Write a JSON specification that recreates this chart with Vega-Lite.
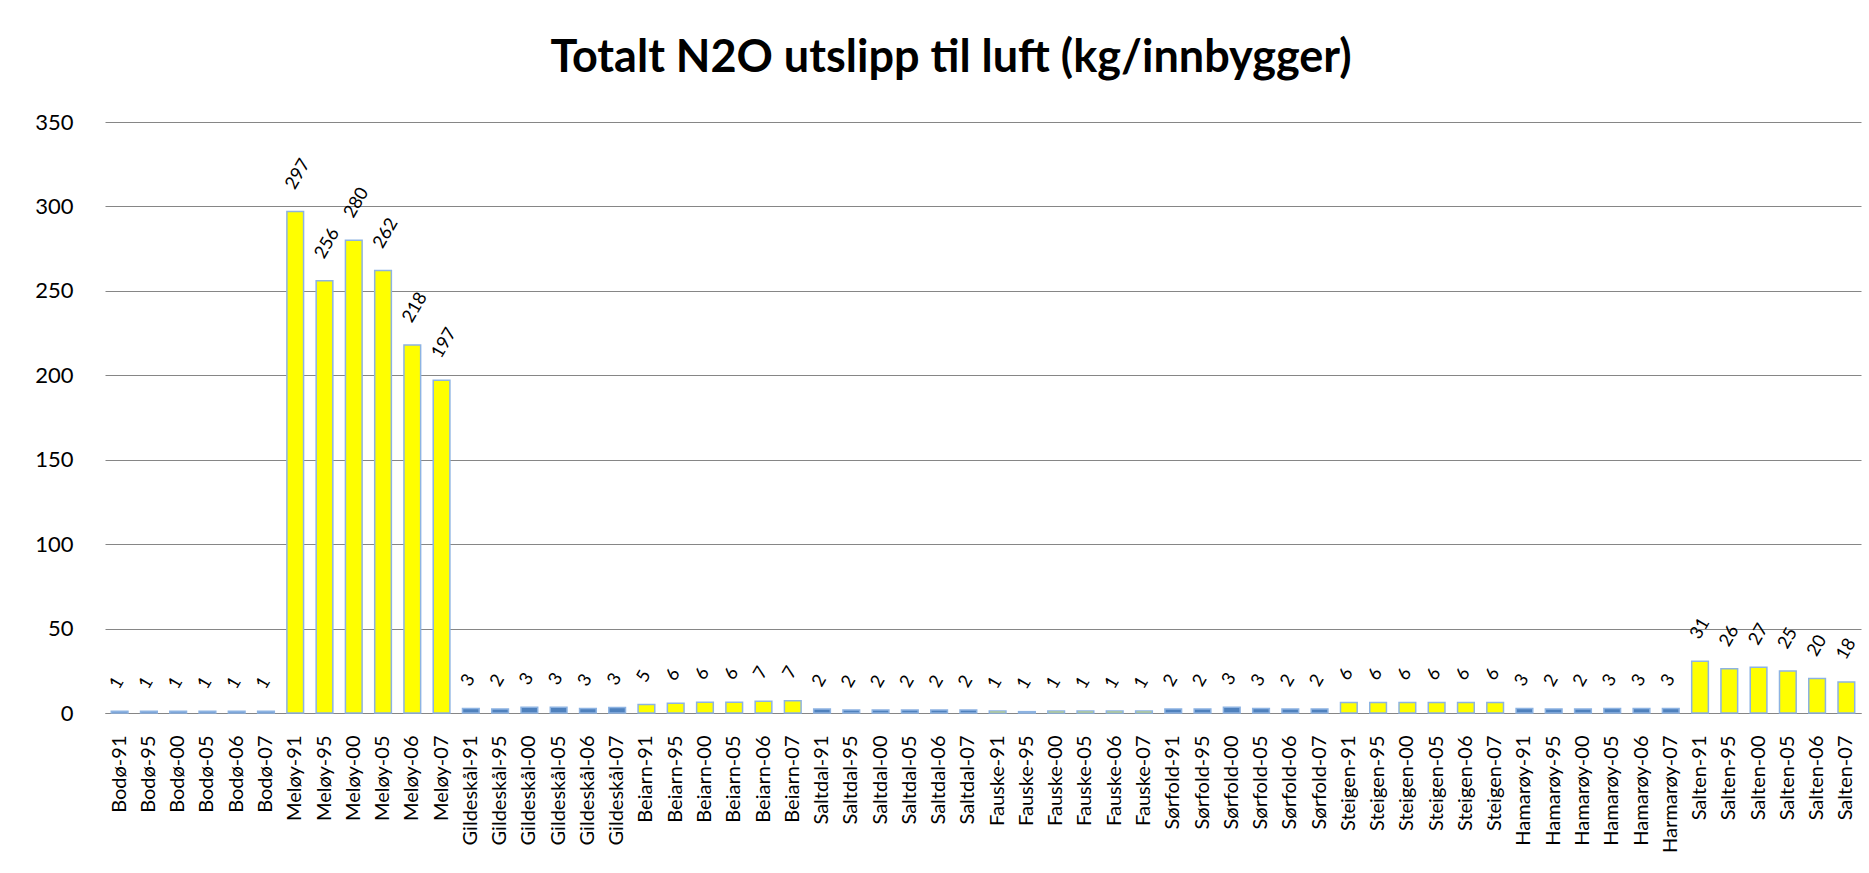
{
  "$schema": "https://vega.github.io/schema/vega-lite/v6.json",
  "autosize": {"type": "none"},
  "padding": {"left": 105, "top": 122, "right": 8, "bottom": 160},
  "width": 1756,
  "height": 591,
  "background": "white",
  "title": {
    "text": "Totalt N2O utslipp til luft (kg/innbygger)",
    "font": "Lato",
    "fontWeight": "bold",
    "fontSize": 45,
    "color": "#000000",
    "anchor": "middle",
    "baseline": "alphabetic",
    "offset": -6,
    "dx": -32
  },
  "data": {
    "values": [
      {"label": "Bodø-91", "kommune": "Bodø", "value": 1.0},
      {"label": "Bodø-95", "kommune": "Bodø", "value": 1.0},
      {"label": "Bodø-00", "kommune": "Bodø", "value": 1.0},
      {"label": "Bodø-05", "kommune": "Bodø", "value": 1.0},
      {"label": "Bodø-06", "kommune": "Bodø", "value": 1.0},
      {"label": "Bodø-07", "kommune": "Bodø", "value": 1.0},
      {"label": "Meløy-91", "kommune": "Meløy", "value": 297},
      {"label": "Meløy-95", "kommune": "Meløy", "value": 256},
      {"label": "Meløy-00", "kommune": "Meløy", "value": 280},
      {"label": "Meløy-05", "kommune": "Meløy", "value": 262},
      {"label": "Meløy-06", "kommune": "Meløy", "value": 218},
      {"label": "Meløy-07", "kommune": "Meløy", "value": 197},
      {"label": "Gildeskål-91", "kommune": "Gildeskål", "value": 2.6},
      {"label": "Gildeskål-95", "kommune": "Gildeskål", "value": 2.4},
      {"label": "Gildeskål-00", "kommune": "Gildeskål", "value": 3.4},
      {"label": "Gildeskål-05", "kommune": "Gildeskål", "value": 3.4},
      {"label": "Gildeskål-06", "kommune": "Gildeskål", "value": 2.6},
      {"label": "Gildeskål-07", "kommune": "Gildeskål", "value": 3.2},
      {"label": "Beiarn-91", "kommune": "Beiarn", "value": 5.0},
      {"label": "Beiarn-95", "kommune": "Beiarn", "value": 5.8},
      {"label": "Beiarn-00", "kommune": "Beiarn", "value": 6.4},
      {"label": "Beiarn-05", "kommune": "Beiarn", "value": 6.4},
      {"label": "Beiarn-06", "kommune": "Beiarn", "value": 7.0},
      {"label": "Beiarn-07", "kommune": "Beiarn", "value": 7.2},
      {"label": "Saltdal-91", "kommune": "Saltdal", "value": 2.3},
      {"label": "Saltdal-95", "kommune": "Saltdal", "value": 1.8},
      {"label": "Saltdal-00", "kommune": "Saltdal", "value": 1.8},
      {"label": "Saltdal-05", "kommune": "Saltdal", "value": 1.8},
      {"label": "Saltdal-06", "kommune": "Saltdal", "value": 1.8},
      {"label": "Saltdal-07", "kommune": "Saltdal", "value": 1.8},
      {"label": "Fauske-91", "kommune": "Fauske", "value": 1.2},
      {"label": "Fauske-95", "kommune": "Fauske", "value": 0.8},
      {"label": "Fauske-00", "kommune": "Fauske", "value": 1.2},
      {"label": "Fauske-05", "kommune": "Fauske", "value": 1.2},
      {"label": "Fauske-06", "kommune": "Fauske", "value": 1.2},
      {"label": "Fauske-07", "kommune": "Fauske", "value": 1.2},
      {"label": "Sørfold-91", "kommune": "Sørfold", "value": 2.4},
      {"label": "Sørfold-95", "kommune": "Sørfold", "value": 2.4},
      {"label": "Sørfold-00", "kommune": "Sørfold", "value": 3.4},
      {"label": "Sørfold-05", "kommune": "Sørfold", "value": 2.6},
      {"label": "Sørfold-06", "kommune": "Sørfold", "value": 2.4},
      {"label": "Sørfold-07", "kommune": "Sørfold", "value": 2.4},
      {"label": "Steigen-91", "kommune": "Steigen", "value": 6.2},
      {"label": "Steigen-95", "kommune": "Steigen", "value": 6.2},
      {"label": "Steigen-00", "kommune": "Steigen", "value": 6.2},
      {"label": "Steigen-05", "kommune": "Steigen", "value": 6.2},
      {"label": "Steigen-06", "kommune": "Steigen", "value": 6.2},
      {"label": "Steigen-07", "kommune": "Steigen", "value": 6.2},
      {"label": "Hamarøy-91", "kommune": "Hamarøy", "value": 2.6},
      {"label": "Hamarøy-95", "kommune": "Hamarøy", "value": 2.4},
      {"label": "Hamarøy-00", "kommune": "Hamarøy", "value": 2.4},
      {"label": "Hamarøy-05", "kommune": "Hamarøy", "value": 2.6},
      {"label": "Hamarøy-06", "kommune": "Hamarøy", "value": 2.6},
      {"label": "Harmarøy-07", "kommune": "Hamarøy", "value": 2.6},
      {"label": "Salten-91", "kommune": "Salten", "value": 30.6},
      {"label": "Salten-95", "kommune": "Salten", "value": 26.2},
      {"label": "Salten-00", "kommune": "Salten", "value": 27.1},
      {"label": "Salten-05", "kommune": "Salten", "value": 24.8},
      {"label": "Salten-06", "kommune": "Salten", "value": 20.4},
      {"label": "Salten-07", "kommune": "Salten", "value": 18.4}
    ]
  },
  "encoding": {
    "x": {
      "field": "label",
      "type": "nominal",
      "sort": null,
      "scale": {"paddingInner": 0.43, "paddingOuter": 0.215},
      "axis": {
        "title": null,
        "labelAngle": 270,
        "labelFont": "Lato",
        "labelFontSize": 20,
        "labelColor": "#000000",
        "labelPadding": 22,
        "ticks": false,
        "tickSize": 0,
        "domain": true,
        "domainColor": "#868686",
        "domainWidth": 1,
        "labelLimit": 300
      }
    },
    "y": {
      "field": "value",
      "type": "quantitative",
      "scale": {"domain": [0, 350], "nice": false, "zero": true},
      "axis": {
        "title": null,
        "values": [0, 50, 100, 150, 200, 250, 300, 350],
        "labelFont": "Lato",
        "labelFontSize": 22,
        "labelColor": "#000000",
        "labelPadding": 32,
        "ticks": false,
        "tickSize": 0,
        "domain": false,
        "grid": true,
        "gridColor": "#868686",
        "gridWidth": 1
      }
    }
  },
  "layer": [
    {
      "mark": {"type": "bar", "stroke": "#8DB3E2", "strokeWidth": 1.5},
      "encoding": {
        "color": {
          "field": "kommune",
          "type": "nominal",
          "legend": null,
          "scale": {
            "domain": ["Bodø", "Meløy", "Gildeskål", "Beiarn", "Saltdal", "Fauske", "Sørfold", "Steigen", "Hamarøy", "Salten"],
            "range": ["#4F81BD", "#FFFF00", "#4F81BD", "#FFFF00", "#4F81BD", "#FFFF00", "#4F81BD", "#FFFF00", "#4F81BD", "#FFFF00"]
          }
        }
      }
    },
    {
      "mark": {
        "type": "text",
        "align": "left",
        "baseline": "middle",
        "angle": 300,
        "dx": 18,
        "dy": -16,
        "font": "Lato",
        "fontSize": 18,
        "color": "#000000"
      },
      "encoding": {
        "text": {"field": "value", "type": "quantitative", "format": ".0f"}
      }
    }
  ],
  "config": {
    "view": {"stroke": null}
  }
}
